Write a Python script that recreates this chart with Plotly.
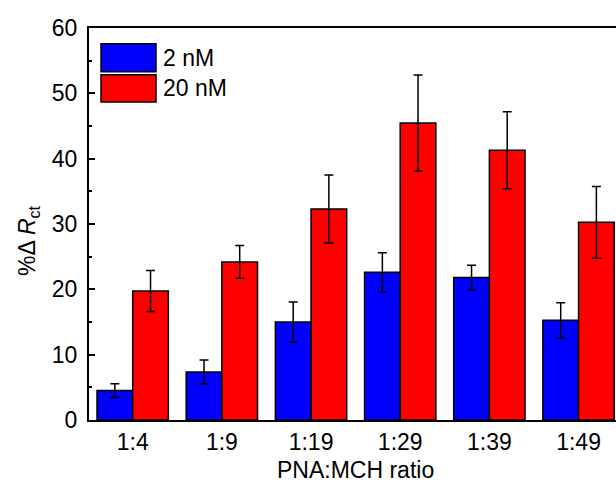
import plotly.graph_objects as go

categories = ["1:4", "1:9", "1:19", "1:29", "1:39", "1:49"]
low_vals = [4.5, 7.35, 15.0, 22.6, 21.8, 15.25]
low_err = [1.05, 1.85, 3.05, 3.0, 1.9, 2.7]
high_vals = [19.75, 24.2, 32.3, 45.45, 41.3, 30.25]
high_err = [3.15, 2.5, 5.2, 7.35, 5.9, 5.5]
series_names = ["2 nM", "20 nM"]
colors = ["#0000ff", "#ff0000"]
x_idx = list(range(len(categories)))

FONT = "Liberation Sans, Arial, sans-serif"
FS = 23
W, H = 616, 485
ML, MR, MT, MB = 89, 0, 28, 65
PW, PH = W - ML - MR, H - MT - MB

def px_x(px):
    return (px - ML) / PW

def px_y(py):
    return (H - MB - py) / PH

fig = go.Figure()
for vals, errs, name, col in [(low_vals, low_err, series_names[0], colors[0]),
                              (high_vals, high_err, series_names[1], colors[1])]:
    fig.add_trace(go.Bar(
        x=x_idx, y=vals, name=name,
        marker=dict(color=col, line=dict(color="black", width=1.5)),
        error_y=dict(type="data", array=errs, visible=True, color="black",
                     thickness=1.5, width=4.5),
        showlegend=False,
    ))

fig.update_layout(
    width=W, height=H,
    margin=dict(l=ML, r=MR, t=MT, b=MB, pad=0),
    plot_bgcolor="white", paper_bgcolor="white",
    barmode="group", bargap=0.2, bargroupgap=0,
    font=dict(family=FONT, size=FS, color="black"),
    xaxis=dict(
        range=[-0.49, 5.42], tickmode="array", tickvals=x_idx, ticktext=categories,
        showline=True, linecolor="black", linewidth=2, mirror=True,
        ticks="", showgrid=False, zeroline=False, ticklabelstandoff=0,
        tickfont=dict(family=FONT, size=FS),
    ),
    yaxis=dict(
        range=[0, 60], tickmode="linear", tick0=0, dtick=10,
        showline=True, linecolor="black", linewidth=2, mirror=False,
        ticks="inside", ticklen=6, tickwidth=1.5, tickcolor="black",
        minor=dict(ticks="inside", ticklen=3, tickwidth=1.5, dtick=5, tickcolor="black"),
        showgrid=False, zeroline=False, ticklabelstandoff=5,
        tickfont=dict(family=FONT, size=FS),
    ),
)

# legend drawn manually (large swatches)
legend_rows = [(43.7, 71.7), (74.7, 102.0)]
for (y0, y1), name, col in zip(legend_rows, series_names, colors):
    fig.add_shape(type="rect", xref="paper", yref="paper",
                  x0=px_x(101), x1=px_x(156), y0=px_y(y1), y1=px_y(y0),
                  fillcolor=col, line=dict(color="black", width=1.5))
    fig.add_annotation(text=name, xref="paper", yref="paper",
                       x=px_x(161), y=px_y((y0 + y1) / 2), xanchor="left", yanchor="middle",
                       showarrow=False, font=dict(family=FONT, size=FS))

fig.add_annotation(text="%\u0394 <i>R</i><sub>ct</sub>", xref="paper", yref="paper",
                   x=px_x(28), y=px_y(241), textangle=-90, xanchor="center", yanchor="middle",
                   showarrow=False, font=dict(family=FONT, size=FS))
fig.add_annotation(text="PNA:MCH ratio", xref="paper", yref="paper",
                   x=px_x(355), y=px_y(470), xanchor="center", yanchor="middle",
                   showarrow=False, font=dict(family=FONT, size=FS))

fig.write_html("out.html")
